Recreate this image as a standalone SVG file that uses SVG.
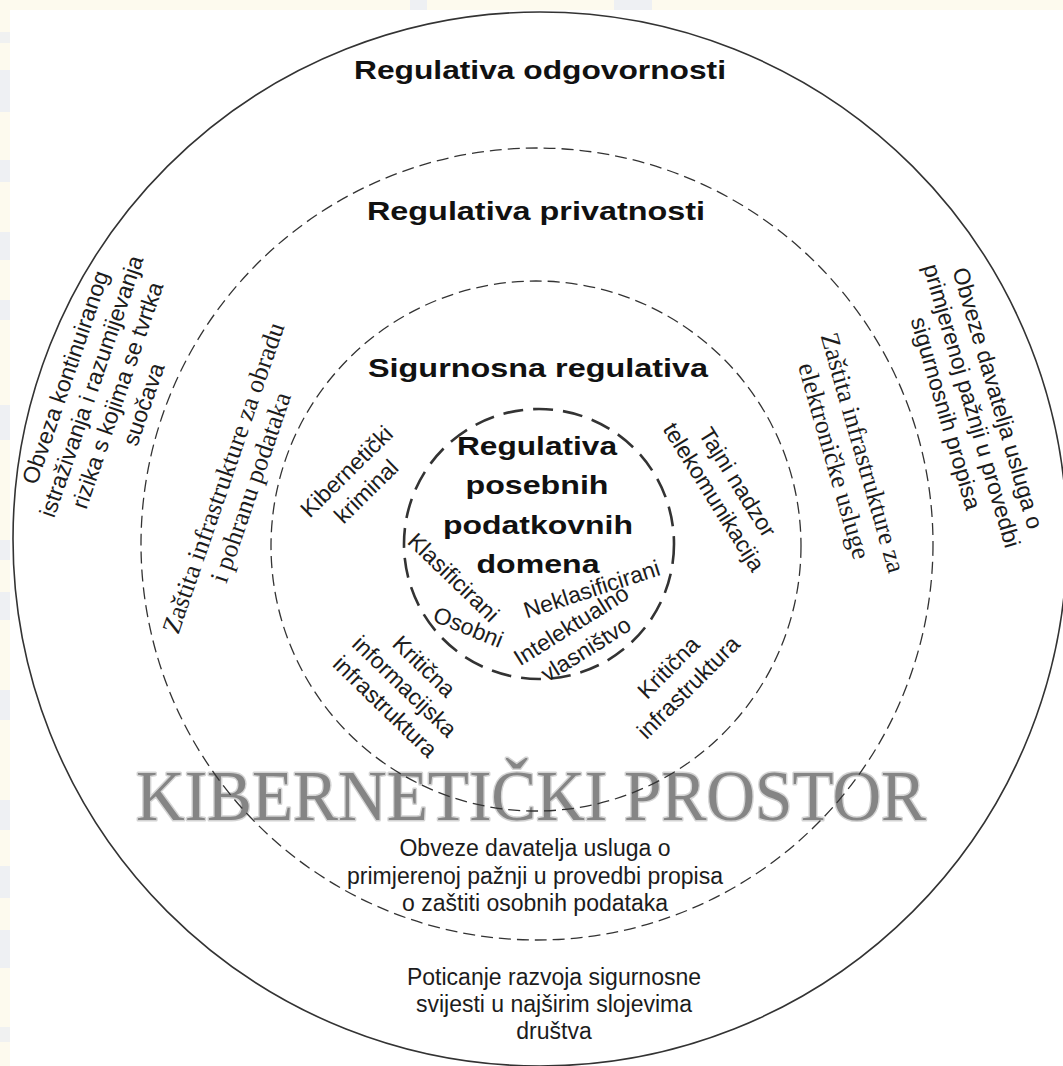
<svg xmlns="http://www.w3.org/2000/svg" width="1063" height="1066" viewBox="0 0 1063 1066">
<style>
.t{font-family:"Liberation Sans",Arial,sans-serif;font-size:23px;fill:#1c1c1c}
.s{font-family:"Liberation Serif","Times New Roman",serif;font-size:26px;fill:#1c1c1c}
.h{font-family:"Liberation Sans",Arial,sans-serif;font-size:26px;font-weight:bold;fill:#111}
.big{font-family:"Liberation Serif","Times New Roman",serif;font-size:72px;fill:#858585;stroke:#d4d4d4;stroke-width:3;paint-order:stroke;stroke-linejoin:round}
.ring{fill:none;stroke:#333}
.dash{stroke-width:1.3;stroke-dasharray:12 6}
.core{stroke-width:2.6;stroke-dasharray:20 10}
</style>
<g id="background">
<rect x="0" y="0" width="1063" height="1066" fill="#fdfaee"/>
<rect x="410" y="0" width="17" height="10" fill="#eef0f3"/>
<rect x="614" y="0" width="38" height="10" fill="#eef0f3"/>
<rect x="0" y="32" width="10" height="11" fill="#f0f1f1"/>
<rect x="0" y="70" width="10" height="42" fill="#eef0f3"/>
<rect x="0" y="160" width="10" height="22" fill="#eef0f3"/>
<rect x="0" y="232" width="10" height="28" fill="#eef0f3"/>
<rect x="0" y="300" width="10" height="20" fill="#eef0f3"/>
<rect x="0" y="405" width="10" height="35" fill="#eef0f3"/>
<rect x="0" y="540" width="10" height="20" fill="#eef0f3"/>
<rect x="0" y="592" width="10" height="28" fill="#eef0f3"/>
<rect x="0" y="690" width="10" height="30" fill="#eef0f3"/>
<rect x="0" y="800" width="10" height="30" fill="#eef0f3"/>
<rect x="0" y="866" width="10" height="32" fill="#eef0f3"/>
<rect x="0" y="930" width="10" height="38" fill="#eef0f3"/>
<rect x="0" y="1027" width="10" height="15" fill="#f0f1f1"/>
<rect x="10" y="10" width="1053" height="1056" fill="#ffffff"/>
</g>
<g id="cyberspace-label">
<text class="big" x="531" y="820" text-anchor="middle" textLength="790" lengthAdjust="spacingAndGlyphs">KIBERNETIČKI PROSTOR</text>
</g>
<g id="connectors"></g>
<g id="ring-outer">
<circle class="ring" cx="540" cy="539" r="527" stroke-width="1.6"/>
<text class="h" x="540" y="79" text-anchor="middle" textLength="372" lengthAdjust="spacingAndGlyphs">Regulativa odgovornosti</text>
<g transform="translate(105,391) rotate(-71)">
<text class="t" text-anchor="middle"><tspan x="0" y="-34">Obveza kontinuiranog</tspan><tspan x="0" y="-6.5">istraživanja i razumijevanja</tspan><tspan x="0" y="21">rizika s kojima se tvrtka</tspan><tspan x="0" y="48.5">suočava</tspan></text>
</g>
<g transform="translate(971,406) rotate(73.7)">
<text class="t" text-anchor="middle"><tspan x="0" y="-20">Obveze davatelja usluga o</tspan><tspan x="0" y="7">primjerenoj pažnji u provedbi</tspan><tspan x="0" y="34">sigurnosnih propisa</tspan></text>
</g>
<text class="t" text-anchor="middle"><tspan x="554" y="985">Poticanje razvoja sigurnosne</tspan><tspan x="554" y="1012">svijesti u najširim slojevima</tspan><tspan x="554" y="1039">društva</tspan></text>
</g>
<g id="ring-privacy">
<circle class="ring dash" cx="537" cy="544" r="396"/>
<text class="h" x="536" y="220" text-anchor="middle" textLength="338" lengthAdjust="spacingAndGlyphs">Regulativa privatnosti</text>
<g transform="translate(238,483) rotate(-71)">
<text class="s" text-anchor="middle"><tspan x="0" y="-7">Zaštita infrastrukture za obradu</tspan><tspan x="0" y="22">i pohranu podataka</tspan></text>
</g>
<g transform="translate(848,457) rotate(74)">
<text class="s" text-anchor="middle"><tspan x="0" y="-7">Zaštita infrastrukture za</tspan><tspan x="0" y="23">elektroničke usluge</tspan></text>
</g>
<text class="t" text-anchor="middle"><tspan x="535" y="856">Obveze davatelja usluga o</tspan><tspan x="535" y="884">primjerenoj pažnji u provedbi propisa</tspan><tspan x="535" y="911">o zaštiti osobnih podataka</tspan></text>
</g>
<g id="ring-security">
<circle class="ring dash" cx="536" cy="546" r="265"/>
<text class="h" x="538" y="377" text-anchor="middle" textLength="340" lengthAdjust="spacingAndGlyphs">Sigurnosna regulativa</text>
<g transform="translate(357,482) rotate(-44.5)">
<text class="t" text-anchor="middle"><tspan x="0" y="-7">Kibernetički</tspan><tspan x="0" y="21">kriminal</tspan></text>
</g>
<g transform="translate(725,490) rotate(58)">
<text class="t" text-anchor="middle"><tspan x="0" y="-7">Tajni nadzor</tspan><tspan x="0" y="21">telekomunikacija</tspan></text>
</g>
<g transform="translate(404,687) rotate(44)">
<text class="t" text-anchor="middle"><tspan x="0" y="-21">Kritična</tspan><tspan x="0" y="7">informacijska</tspan><tspan x="0" y="35">infrastruktura</tspan></text>
</g>
<g transform="translate(679,678) rotate(-45)">
<text class="t" text-anchor="middle"><tspan x="0" y="-7">Kritična</tspan><tspan x="0" y="21">infrastruktura</tspan></text>
</g>
</g>
<g id="ring-core">
<circle class="ring core" cx="539" cy="544" r="135"/>
<text class="h" text-anchor="middle"><tspan x="537" y="455" textLength="160" lengthAdjust="spacingAndGlyphs">Regulativa</tspan><tspan x="537" y="494" textLength="143" lengthAdjust="spacingAndGlyphs">posebnih</tspan><tspan x="538" y="534" textLength="190" lengthAdjust="spacingAndGlyphs">podatkovnih</tspan><tspan x="538" y="573" textLength="123" lengthAdjust="spacingAndGlyphs">domena</tspan></text>
<g transform="translate(453,578) rotate(44)"><text class="t" x="0" y="7" text-anchor="middle">Klasificirani</text></g>
<g transform="translate(468,628) rotate(22)"><text class="t" x="0" y="7" text-anchor="middle">Osobni</text></g>
<g transform="translate(592,590) rotate(-18)"><text class="t" x="0" y="7" text-anchor="middle">Neklasificirani</text></g>
<g transform="translate(579,638) rotate(-32)">
<text class="t" text-anchor="middle"><tspan x="0" y="-7">Intelektualno</tspan><tspan x="0" y="21">vlasništvo</tspan></text>
</g>
</g>
</svg>
